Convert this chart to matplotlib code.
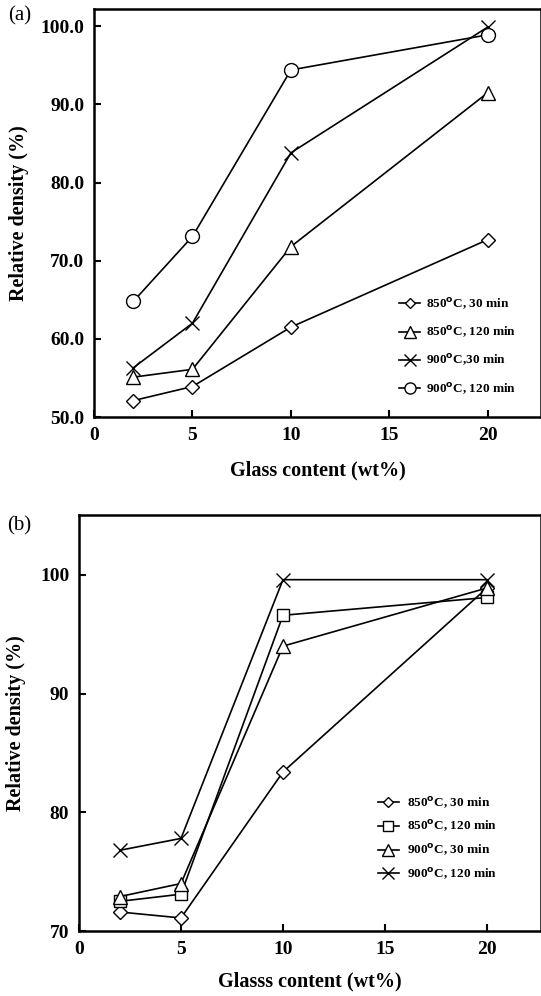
import numpy as np
import matplotlib.pyplot as plt

plt.rcParams['font.family'] = ['Liberation Serif', 'DejaVu Serif']
plt.rcParams['font.weight'] = 'bold'

# (a) glass content vs relative density
glass_a = [2, 5, 10, 20]
a_850_30 = [52.1, 53.9, 61.5, 72.7]
a_850_120 = [55.1, 56.1, 71.8, 91.5]
a_900_30 = [56.3, 62.0, 83.8, 99.9]
a_900_120 = [64.8, 73.1, 94.4, 98.9]
labels_a = ["850$^{\\mathbf{o}}$C, 30 min", "850$^{\\mathbf{o}}$C, 120 min",
            "900$^{\\mathbf{o}}$C,30 min", "900$^{\\mathbf{o}}$C, 120 min"]

# (b)
glass_b = [2, 5, 10, 20]
b_850_30 = [71.6, 71.1, 83.4, 98.9]
b_850_120 = [72.5, 73.1, 96.6, 98.1]
b_900_30 = [72.9, 74.0, 94.0, 98.9]
b_900_120 = [76.8, 77.8, 99.6, 99.6]
labels_b = ["850$^{\\mathbf{o}}$C, 30 min", "850$^{\\mathbf{o}}$C, 120 min",
            "900$^{\\mathbf{o}}$C, 30 min", "900$^{\\mathbf{o}}$C, 120 min"]

fig = plt.figure(figsize=(5.41, 9.96), dpi=100)
W, H = 541, 996
ax1 = fig.add_axes([94 / W, 1 - 417 / H, (541 - 94) / W, (417 - 9) / H])
ax2 = fig.add_axes([79 / W, 1 - 931 / H, (541 - 79) / W, (931 - 515) / H])

style = dict(color='black', lw=1.2, mfc='white', mec='black', mew=1.0)

ax1.plot(glass_a, a_850_30, marker='D', ms=7, label=labels_a[0], **style)
ax1.plot(glass_a, a_850_120, marker='^', ms=10, label=labels_a[1], **style)
ax1.plot(glass_a, a_900_30, marker='x', ms=10, label=labels_a[2], **style)
ax1.plot(glass_a, a_900_120, marker='o', ms=10, label=labels_a[3], **style)

ax2.plot(glass_b, b_850_30, marker='D', ms=7, label=labels_b[0], **style)
ax2.plot(glass_b, b_850_120, marker='s', ms=9, label=labels_b[1], **style)
ax2.plot(glass_b, b_900_30, marker='^', ms=10, label=labels_b[2], **style)
ax2.plot(glass_b, b_900_120, marker='x', ms=10, label=labels_b[3], **style)

ax1.set_xlim(0, 22.7)
ax1.set_ylim(50, 102.2)
ax1.set_yticks([50, 60, 70, 80, 90, 100])
ax1.set_yticklabels(['50.0', '60.0', '70.0', '80.0', '90.0', '100.0'])
ax1.set_xticks([0, 5, 10, 15, 20])
ax1.set_xlabel('Glass content (wt%)', fontsize=14.5, fontweight='bold', labelpad=12)
ax1.set_ylabel('Relative density (%)', fontsize=14.5, fontweight='bold', labelpad=8)

ax2.set_xlim(0, 22.65)
ax2.set_ylim(70, 105.05)
ax2.set_yticks([70, 80, 90, 100])
ax2.set_xticks([0, 5, 10, 15, 20])
ax2.set_xlabel('Glasss content (wt%)', fontsize=14.5, fontweight='bold', labelpad=10)
ax2.set_ylabel('Relative density (%)', fontsize=14.5, fontweight='bold', labelpad=10)

for ax in (ax1, ax2):
    ax.tick_params(direction='in', length=5, width=1.5, labelsize=14, pad=7)
    for lab in ax.get_xticklabels() + ax.get_yticklabels():
        lab.set_fontweight('bold')
    for sp in ax.spines.values():
        sp.set_linewidth(1.8)

ax1.legend(frameon=False, fontsize=9.5, handlelength=1.6, handletextpad=0.4,
           labelspacing=0.95, markerscale=0.8, loc='upper right',
           bbox_to_anchor=(0.97, 0.325))
ax2.legend(frameon=False, fontsize=9.5, handlelength=1.6, handletextpad=0.6,
           labelspacing=0.6, markerscale=0.8, loc='upper right',
           bbox_to_anchor=(0.93, 0.355))

fig.text(8 / W, 1 - 16 / H, '(a)', fontsize=15, fontweight='normal', va='center')
fig.text(7 / W, 1 - 526 / H, '(b)', fontsize=15, fontweight='normal', va='center')

plt.savefig('out.png', dpi=100)
